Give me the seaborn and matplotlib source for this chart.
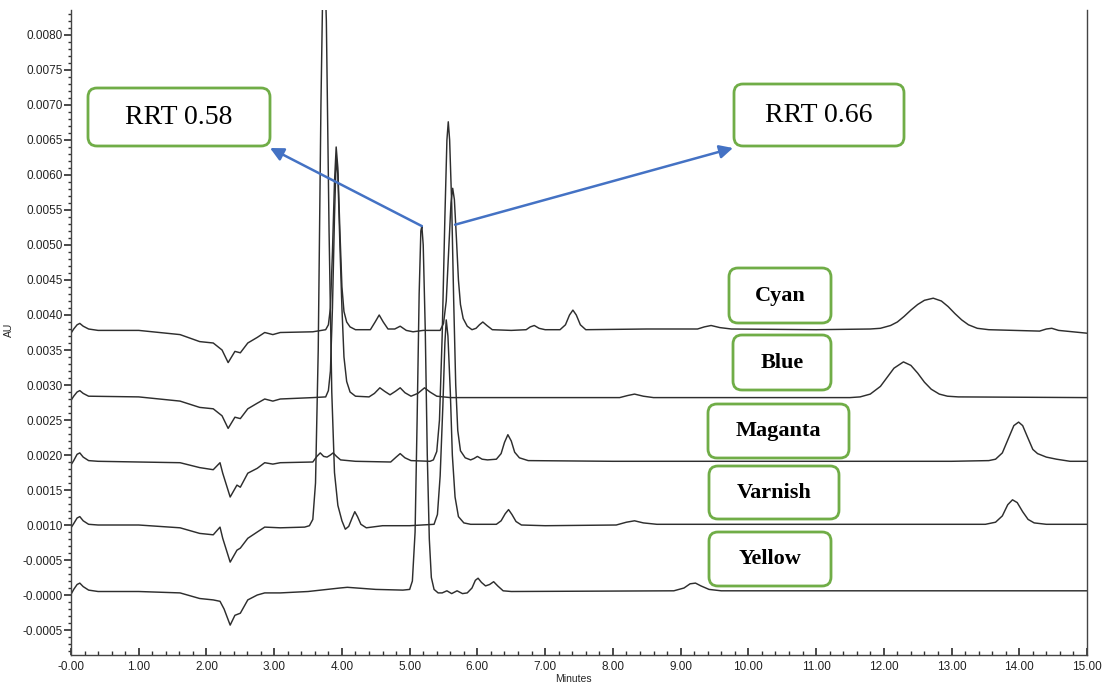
import numpy as np
import pandas as pd
import matplotlib
matplotlib.use('Agg')
import matplotlib.pyplot as plt
import seaborn as sns
from matplotlib.patches import FancyBboxPatch
from matplotlib.transforms import IdentityTransform
from matplotlib.ticker import MultipleLocator

# --- chromatogram traces (minutes, AU) ---
cyan_t = [0.00, 0.04, 0.09, 0.13, 0.18, 0.26, 0.40, 1.00, 1.61, 1.90, 2.10, 2.23, 2.32, 2.42, 2.50,
          2.61, 2.75, 2.86, 2.98, 3.09, 3.57, 3.76, 3.80, 3.83, 3.86, 3.89, 3.915, 3.94, 3.97, 4.00,
          4.03, 4.07, 4.12, 4.20, 4.35, 4.42, 4.49, 4.55, 4.61, 4.68, 4.78, 4.86, 4.95, 5.05, 5.20,
          5.40, 5.45, 5.50, 5.54, 5.58, 5.61, 5.635, 5.66, 5.69, 5.72, 5.75, 5.79, 5.85, 5.92, 5.98,
          6.03, 6.08, 6.14, 6.22, 6.50, 6.72, 6.78, 6.84, 6.91, 7.00, 7.22, 7.30, 7.36, 7.41, 7.46,
          7.52, 7.60, 8.50, 9.25, 9.35, 9.45, 9.58, 9.75, 11.00, 11.80, 11.95, 12.10, 12.20, 12.30,
          12.40, 12.50, 12.60, 12.73, 12.85, 12.95, 13.05, 13.15, 13.25, 13.38, 13.55, 14.30, 14.40,
          14.48, 14.58, 15.00]
cyan_au = [0.00374, 0.00380, 0.00386, 0.00388, 0.00384, 0.00380, 0.00378, 0.00378, 0.00372, 0.00362,
           0.00360, 0.00350, 0.00332, 0.00348, 0.00346, 0.00360, 0.00368, 0.00375, 0.00372, 0.00375,
           0.00376, 0.00379, 0.00386, 0.00410, 0.00490, 0.00590, 0.00640, 0.00610, 0.00520, 0.00440,
           0.00405, 0.00390, 0.00383, 0.00379, 0.00379, 0.00379, 0.00390, 0.00400, 0.00390, 0.00380,
           0.00380, 0.00384, 0.00378, 0.00376, 0.00378, 0.00378, 0.00378, 0.00388, 0.00420, 0.00500,
           0.00560, 0.00581, 0.00565, 0.00510, 0.00450, 0.00415, 0.00395, 0.00384, 0.00379, 0.00381,
           0.00386, 0.00390, 0.00385, 0.00379, 0.00378, 0.00379, 0.00383, 0.00385, 0.00381, 0.00379,
           0.00379, 0.00386, 0.00400, 0.00407, 0.00400, 0.00386, 0.00379, 0.00380, 0.00380, 0.00383,
           0.00385, 0.00382, 0.00380, 0.00379, 0.00380, 0.00381, 0.00385, 0.00390, 0.00398, 0.00407,
           0.00415, 0.00421, 0.00424, 0.00420, 0.00412, 0.00402, 0.00393, 0.00386, 0.00381, 0.00379,
           0.00377, 0.00380, 0.00381, 0.00378, 0.00374]

blue_t = [0.00, 0.04, 0.09, 0.13, 0.18, 0.26, 1.00, 1.61, 1.90, 2.10, 2.23, 2.32, 2.42, 2.50, 2.61,
          2.75, 2.86, 2.98, 3.09, 3.57, 3.76, 3.80, 3.83, 3.86, 3.89, 3.915, 3.94, 3.97, 4.00, 4.03,
          4.07, 4.12, 4.20, 4.40, 4.48, 4.56, 4.63, 4.71, 4.79, 4.86, 4.93, 5.02, 5.12, 5.22, 5.30,
          5.40, 5.60, 8.10, 8.22, 8.32, 8.45, 8.60, 11.50, 11.65, 11.80, 11.95, 12.05, 12.15, 12.29,
          12.40, 12.50, 12.60, 12.70, 12.82, 12.94, 13.10, 15.00]
blue_au = [0.00278, 0.00284, 0.00290, 0.00292, 0.00288, 0.00284, 0.00283, 0.00277, 0.00268, 0.00266,
           0.00256, 0.00238, 0.00254, 0.00252, 0.00266, 0.00274, 0.00280, 0.00277, 0.00280, 0.00282,
           0.00283, 0.00292, 0.00320, 0.00410, 0.00540, 0.00625, 0.00600, 0.00500, 0.00410, 0.00340,
           0.00305, 0.00290, 0.00284, 0.00283, 0.00288, 0.00296, 0.00291, 0.00286, 0.00291, 0.00296,
           0.00289, 0.00284, 0.00288, 0.00296, 0.00290, 0.00284, 0.00282, 0.00282, 0.00285, 0.00287,
           0.00284, 0.00282, 0.00282, 0.00283, 0.00287, 0.00298, 0.00311, 0.00324, 0.00333, 0.00328,
           0.00317, 0.00304, 0.00294, 0.00287, 0.00284, 0.00283, 0.00282]

magenta_t = [0.00, 0.04, 0.09, 0.13, 0.18, 0.26, 0.40, 1.00, 1.61, 1.90, 2.10, 2.20, 2.24, 2.35, 2.45,
             2.50, 2.61, 2.75, 2.86, 2.98, 3.09, 3.57, 3.63, 3.68, 3.73, 3.78, 3.83, 3.87, 3.92, 3.98,
             4.20, 4.72, 4.80, 4.86, 4.93, 5.02, 5.30, 5.35, 5.40, 5.44, 5.48, 5.52, 5.55, 5.57, 5.59,
             5.62, 5.65, 5.68, 5.71, 5.75, 5.82, 5.90, 5.95, 6.00, 6.07, 6.15, 6.28, 6.35, 6.40, 6.45,
             6.50, 6.55, 6.62, 6.75, 8.00, 9.00, 13.00, 13.55, 13.65, 13.75, 13.85, 13.92, 13.99, 14.05,
             14.12, 14.20, 14.27, 14.40, 14.55, 14.75, 15.00]
magenta_au = [0.00186, 0.00192, 0.00201, 0.00203, 0.00197, 0.00192, 0.00191, 0.00190, 0.00189, 0.00182,
              0.00179, 0.00189, 0.00174, 0.00140, 0.00157, 0.00154, 0.00174, 0.00181, 0.00189, 0.00187,
              0.00189, 0.00190, 0.00198, 0.00203, 0.00198, 0.00197, 0.00200, 0.00203, 0.00198, 0.00193,
              0.00191, 0.00190, 0.00197, 0.00202, 0.00196, 0.00192, 0.00191, 0.00193, 0.00205, 0.00250,
              0.00370, 0.00540, 0.00650, 0.00676, 0.00650, 0.00560, 0.00420, 0.00300, 0.00235, 0.00206,
              0.00196, 0.00193, 0.00195, 0.00198, 0.00194, 0.00193, 0.00194, 0.00202, 0.00218, 0.00229,
              0.00220, 0.00204, 0.00196, 0.00192, 0.00191, 0.00191, 0.00191, 0.00192, 0.00194, 0.00203,
              0.00226, 0.00242, 0.00247, 0.00242, 0.00226, 0.00208, 0.00202, 0.00197, 0.00194, 0.00191,
              0.00191]

varnish_t = [0.00, 0.04, 0.09, 0.13, 0.18, 0.26, 0.40, 1.00, 1.61, 1.90, 2.10, 2.20, 2.24, 2.35, 2.45,
             2.50, 2.61, 2.75, 2.86, 3.09, 3.45, 3.52, 3.57, 3.61, 3.65, 3.69, 3.73, 3.77, 3.81, 3.85,
             3.89, 3.94, 4.00, 4.05, 4.10, 4.15, 4.19, 4.23, 4.28, 4.36, 4.60, 5.00, 5.36, 5.41, 5.45,
             5.49, 5.52, 5.54, 5.565, 5.60, 5.63, 5.67, 5.72, 5.80, 5.90, 6.28, 6.35, 6.41, 6.46, 6.51,
             6.57, 6.65, 7.00, 8.05, 8.20, 8.32, 8.45, 8.65, 13.50, 13.65, 13.75, 13.83, 13.90, 13.97,
             14.05, 14.13, 14.22, 14.40, 15.00]
varnish_au = [0.00096, 0.00102, 0.00110, 0.00112, 0.00106, 0.00101, 0.00100, 0.00100, 0.00096, 0.00088,
              0.00086, 0.00097, 0.00081, 0.00047, 0.00064, 0.00067, 0.00081, 0.00090, 0.00097, 0.00096,
              0.00097, 0.00099, 0.00108, 0.00160, 0.00350, 0.00700, 0.00950, 0.00820, 0.00520, 0.00290,
              0.00175, 0.00128, 0.00106, 0.00094, 0.00098, 0.00110, 0.00119, 0.00112, 0.00101, 0.00096,
              0.00099, 0.00099, 0.00101, 0.00115, 0.00170, 0.00270, 0.00360, 0.00393, 0.00370, 0.00290,
              0.00200, 0.00140, 0.00112, 0.00103, 0.00101, 0.00101, 0.00106, 0.00116, 0.00122, 0.00115,
              0.00105, 0.00100, 0.00099, 0.00100, 0.00104, 0.00106, 0.00103, 0.00101, 0.00101, 0.00104,
              0.00113, 0.00129, 0.00136, 0.00132, 0.00119, 0.00108, 0.00103, 0.00101, 0.00101]

yellow_t = [0.00, 0.04, 0.09, 0.13, 0.18, 0.26, 0.40, 1.00, 1.61, 1.90, 2.10, 2.20, 2.26, 2.35, 2.42,
            2.50, 2.61, 2.75, 2.86, 3.09, 3.50, 3.97, 4.08, 4.50, 4.90, 5.00, 5.04, 5.08, 5.11, 5.14,
            5.165, 5.18, 5.20, 5.23, 5.26, 5.29, 5.32, 5.36, 5.42, 5.48, 5.55, 5.62, 5.70, 5.78, 5.85,
            5.92, 5.97, 6.01, 6.06, 6.12, 6.18, 6.24, 6.30, 6.38, 6.50, 8.90, 9.05, 9.14, 9.22, 9.30,
            9.42, 9.60, 15.00]
yellow_au = [0.00001, 0.00008, 0.00015, 0.00017, 0.00012, 0.00007, 0.00005, 0.00005, 0.00003, -0.00005,
             -0.00007, -0.00009, -0.00020, -0.00043, -0.00029, -0.00026, -0.00007, 0.00000, 0.00003, 0.00003,
             0.00005, 0.00010, 0.00011, 0.00008, 0.00007, 0.00008, 0.00020, 0.00090, 0.00250, 0.00430,
             0.00520, 0.00527, 0.00500, 0.00380, 0.00200, 0.00080, 0.00025, 0.00008, 0.00003, 0.00003,
             0.00006, 0.00002, 0.00006, 0.00002, 0.00003, 0.00010, 0.00021, 0.00024, 0.00018, 0.00013,
             0.00015, 0.00019, 0.00013, 0.00006, 0.00005, 0.00006, 0.00010, 0.00016, 0.00017, 0.00013,
             0.00008, 0.00006, 0.00006]

x_ticks = list(range(0, 16))
x_tick_labels = ['-0.00', '1.00', '2.00', '3.00', '4.00', '5.00', '6.00', '7.00', '8.00',
                 '9.00', '10.00', '11.00', '12.00', '13.00', '14.00', '15.00']
y_ticks = [-0.0005, 0.0, 0.0005, 0.0010, 0.0015, 0.0020, 0.0025, 0.0030, 0.0035,
           0.0040, 0.0045, 0.0050, 0.0055, 0.0060, 0.0065, 0.0070, 0.0075, 0.0080]
y_tick_labels = ['-0.0005', '-0.0000', '-0.0005', '0.0010', '0.0015', '0.0020', '0.0025', '0.0030',
                 '0.0035', '0.0040', '0.0045', '0.0050', '0.0055', '0.0060', '0.0065', '0.0070',
                 '0.0075', '0.0080']

# labels: (text, box left, box top, box right, box bottom) in image pixels
sample_boxes = [('Cyan', 729, 268, 831, 323),
                ('Blue', 733, 335, 831, 390),
                ('Maganta', 708, 404, 849, 458),
                ('Varnish', 709, 466, 839, 519),
                ('Yellow', 709, 532, 831, 586)]
rrt_boxes = [('RRT 0.58', 88, 88, 270, 146),
             ('RRT 0.66', 734, 84, 904, 146)]

W, H = 1104, 682
GREEN = '#70AD47'
ARROW_BLUE = '#4472C4'
TRACE = '#2e2e2e'

sns.set_theme(style='white')
plt.rcParams['font.family'] = ['Liberation Sans', 'DejaVu Sans']

fig = plt.figure(figsize=(W / 100, H / 100), dpi=100)
ax = fig.add_axes([71 / W, 27 / H, (1087 - 71) / W, (655 - 10) / H])

frames = []
for name, t, au in [('Cyan', cyan_t, cyan_au), ('Blue', blue_t, blue_au),
                    ('Maganta', magenta_t, magenta_au), ('Varnish', varnish_t, varnish_au),
                    ('Yellow', yellow_t, yellow_au)]:
    frames.append(pd.DataFrame({'trace': name, 'minutes': t, 'au': au}))
df = pd.concat(frames, ignore_index=True)

sns.lineplot(data=df, x='minutes', y='au', hue='trace',
             palette={n: TRACE for n in df['trace'].unique()},
             estimator=None, legend=False, linewidth=1.05, ax=ax)

ax.set_xlim(0, 15)
ax.set_ylim(-0.000857, 0.008357)
ax.set_xticks(x_ticks)
ax.set_xticklabels(x_tick_labels)
ax.xaxis.set_minor_locator(MultipleLocator(0.2))
ax.set_yticks(y_ticks)
ax.set_yticklabels(y_tick_labels)
ax.yaxis.set_minor_locator(MultipleLocator(0.0001))
ax.tick_params(axis='both', which='both', bottom=True, left=True, colors='#333333',
               labelsize=8.5, labelcolor='#222222')
ax.tick_params(axis='x', which='major', direction='in', length=5, pad=4)
ax.tick_params(axis='x', which='minor', direction='in', length=3)
ax.tick_params(axis='y', which='major', direction='out', length=5, pad=1)
ax.tick_params(axis='y', which='minor', direction='out', length=2.5)

for side in ['left', 'bottom', 'right']:
    ax.spines[side].set_visible(True)
    ax.spines[side].set_color('#444444')
    ax.spines[side].set_linewidth(1.0)
ax.spines['top'].set_visible(False)

ax.set_xlabel('Minutes', fontsize=7.5)
ax.set_ylabel('AU', fontsize=7.5)
ax.xaxis.set_label_coords((573 - 71) / 1016, -0.029)
ax.yaxis.set_label_coords((14 - 71) / 1016, 0.504)

# arrows from the peaks to the RRT boxes
ax.annotate('', xy=(270, H - 148), xycoords='figure pixels',
            xytext=(5.18, 0.00527), textcoords='data',
            arrowprops=dict(arrowstyle='-|>', color=ARROW_BLUE, lw=1.8,
                            mutation_scale=20, shrinkA=0, shrinkB=0))
ax.annotate('', xy=(733, H - 148), xycoords='figure pixels',
            xytext=(5.67, 0.00529), textcoords='data',
            arrowprops=dict(arrowstyle='-|>', color=ARROW_BLUE, lw=1.8,
                            mutation_scale=20, shrinkA=0, shrinkB=0))


def add_box(text, x0, y0, x1, y1, size, weight):
    patch = FancyBboxPatch((x0, H - y1), x1 - x0, y1 - y0,
                           boxstyle='round,pad=0,rounding_size=9',
                           transform=IdentityTransform(), facecolor='white',
                           edgecolor=GREEN, linewidth=2, zorder=5)
    fig.add_artist(patch)
    fig.text((x0 + x1) / 2 / W, 1 - (y0 + y1) / 2 / H, text, ha='center', va='center',
             fontsize=size, fontweight=weight, family=['Liberation Serif', 'DejaVu Serif'],
             color='black', zorder=6)


for label, x0, y0, x1, y1 in rrt_boxes:
    add_box(label, x0, y0, x1, y1, 20, 'normal')
for label, x0, y0, x1, y1 in sample_boxes:
    add_box(label, x0, y0, x1, y1, 16, 'bold')

fig.savefig('out.png', dpi=100)
